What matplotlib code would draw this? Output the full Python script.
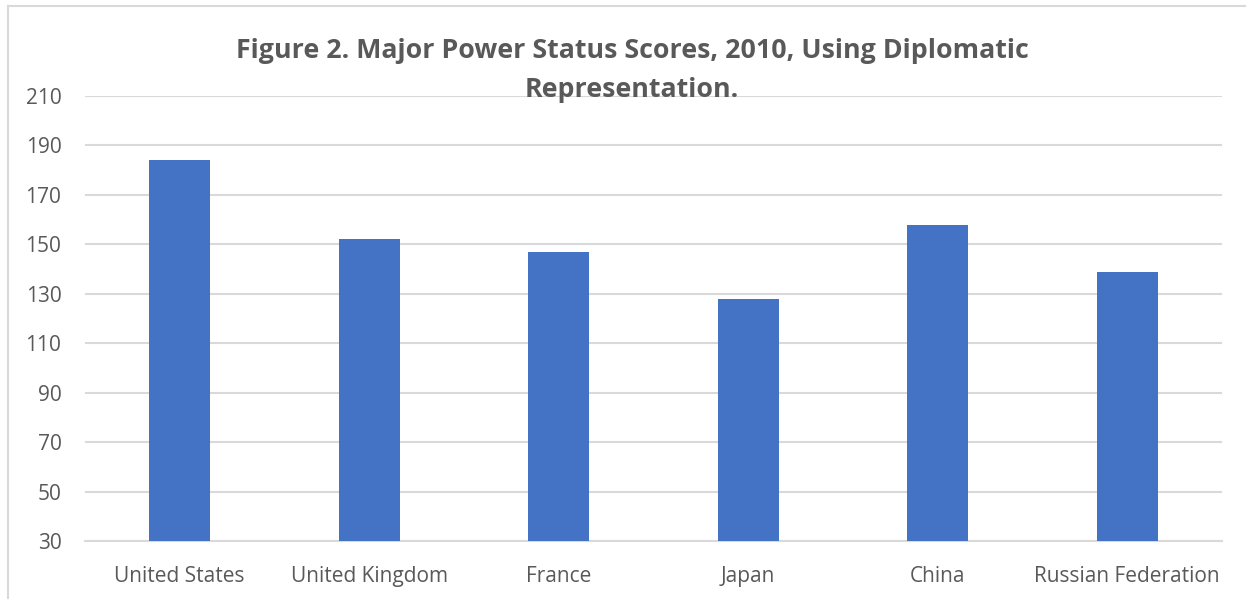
import matplotlib
matplotlib.use("Agg")
import matplotlib.pyplot as plt
from matplotlib.lines import Line2D

categories = ["United States", "United Kingdom", "France", "Japan", "China", "Russian Federation"]
scores = [184, 152, 147, 128, 158, 139]
yticks = [30, 50, 70, 90, 110, 130, 150, 170, 190, 210]
title = "Figure 2. Major Power Status Scores, 2010, Using Diplomatic\nRepresentation."

font = ["Open Sans", "DejaVu Sans"]
txt_color = "#595959"
grid_color = "#D9D9D9"
bar_color = "#4472C4"

fig = plt.figure(figsize=(12.46, 5.99), dpi=100)
ax = fig.add_axes([85/1246, 1-541/599, (1222-85)/1246, (541-96)/599])

x = list(range(len(categories)))
ax.bar(x, [s - 30 for s in scores], bottom=30, width=0.32, color=bar_color, zorder=3)
ax.set_xlim(-0.5, len(categories) - 0.5)
ax.set_ylim(30, 210)
ax.set_yticks(yticks)
ax.set_yticklabels([str(t) for t in yticks], family=font, fontsize=15, color=txt_color)
ax.set_xticks(x)
ax.set_xticklabels(categories, family=font, fontsize=15, color=txt_color)
ax.tick_params(axis="both", length=0)
ax.tick_params(axis="y", pad=17)
ax.tick_params(axis="x", pad=18)
ax.grid(axis="y", color=grid_color, linewidth=1.5, zorder=0)
for s in ["top", "right", "left"]:
    ax.spines[s].set_visible(False)
ax.spines["bottom"].set_color(grid_color)
ax.spines["bottom"].set_linewidth(1.5)

fig.text(632/1246, 1-70.5/599, title, ha="center", va="center", family=font,
         fontsize=19.3, fontweight="bold", color=txt_color, linespacing=1.68)

# chart area border
fig.add_artist(Line2D([8/1246, 8/1246], [0, 1-6/599], transform=fig.transFigure, color=grid_color, linewidth=1.5))
fig.add_artist(Line2D([8/1246, 1], [1-6/599, 1-6/599], transform=fig.transFigure, color=grid_color, linewidth=1.5))

fig.savefig("out.png", dpi=100)
